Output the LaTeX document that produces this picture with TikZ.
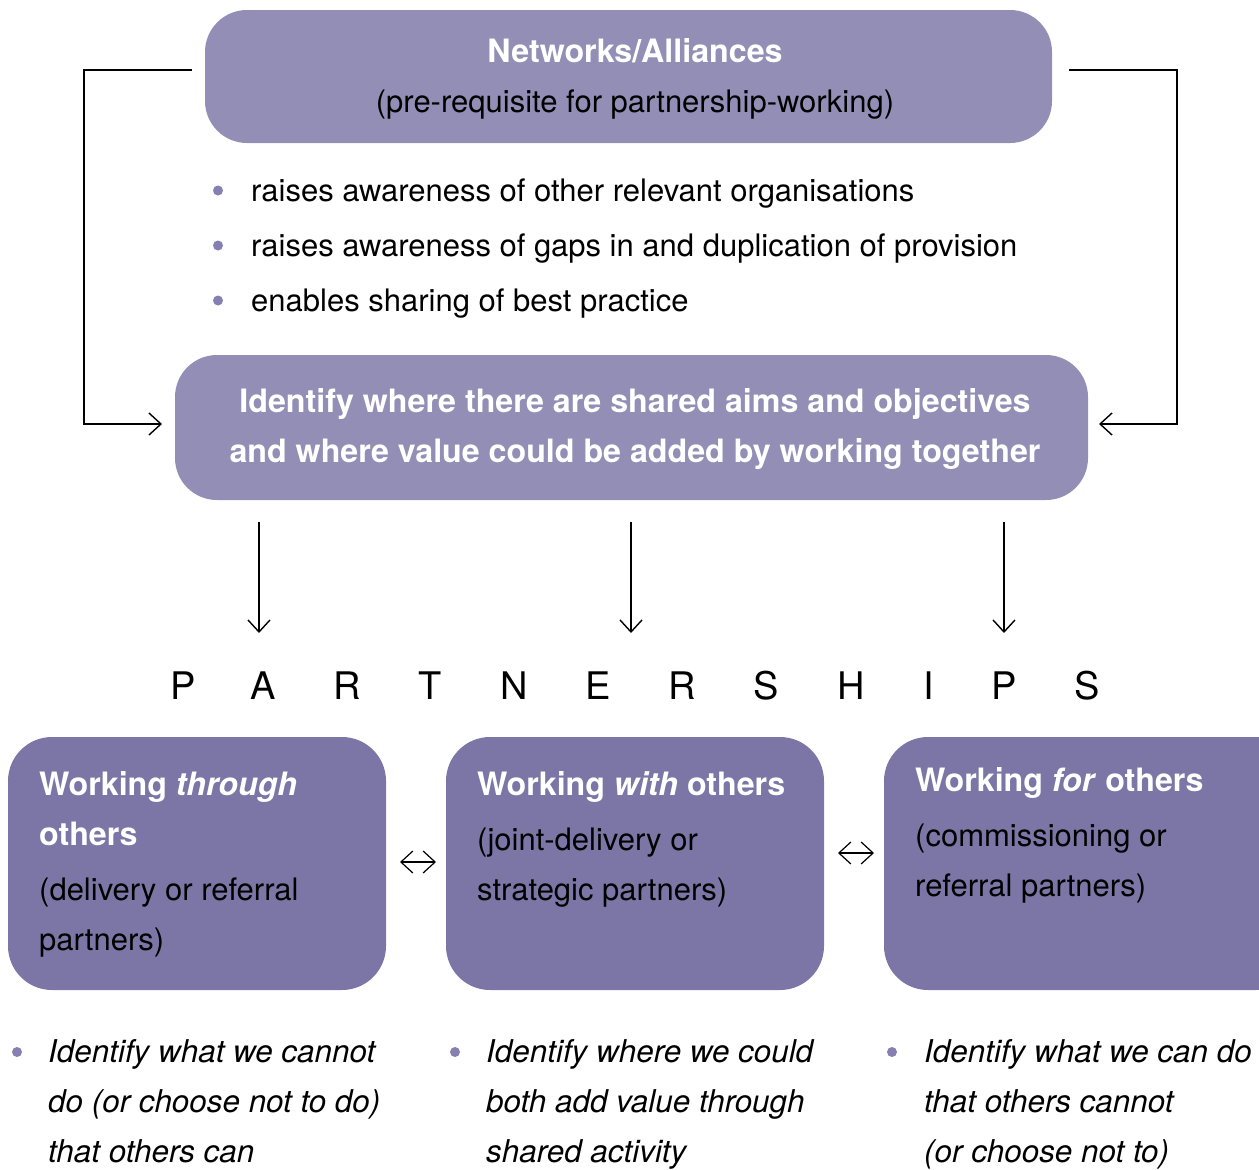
\documentclass[tikz,border=0pt]{standalone}
\usepackage{fontspec}
\setmainfont{TeX Gyre Heros}
\usetikzlibrary{arrows.meta}
\definecolor{boxA}{HTML}{938EB6}
\definecolor{boxB}{HTML}{7B76A6}
\definecolor{dotc}{HTML}{8580B0}
\begin{document}
\begin{tikzpicture}[x=1pt,y=-1pt,
  txt/.style={inner sep=0pt,anchor=base west,font=\fontsize{31}{50}\selectfont},
  ctxt/.style={inner sep=0pt,anchor=base,font=\fontsize{31}{50}\selectfont},
  wbold/.style={text=white,font=\fontsize{32.2}{50}\selectfont\bfseries},
  itx/.style={txt,font=\fontsize{31.4}{50}\selectfont\itshape},
  topbox/.style={fill=boxA,draw=none,rounded corners=42pt},
  botbox/.style={fill=boxB,draw=none,rounded corners=44pt},
  dotb/.style={circle,fill=dotc,inner sep=0pt,minimum size=10pt},
  conn/.style={line width=1.4pt,-{Straight Barb[length=12pt,width=22pt,line width=1.4pt]}},
  dconn/.style={line width=1.2pt,{Straight Barb[length=12pt,width=22pt,line width=1.2pt]}-{Straight Barb[length=12pt,width=22pt,line width=1.2pt]}},
  letter/.style={inner sep=0pt,anchor=base,font=\fontsize{38}{40}\selectfont}
]
\useasboundingbox (0,0) rectangle (1259,1170);

% top box
\path[topbox] (205,10) rectangle (1052,143);
\node[ctxt,wbold] (nettitle) at (635,62) {Networks/Alliances};
\node[ctxt] (netsub) at (635,112) {(pre-requisite for partnership-working)};

% bullets
\node[dotb] (d1) at (218,190.5) {};
\node[dotb] (d2) at (218,245.5) {};
\node[dotb] (d3) at (218,300.5) {};
\node[txt] (b1) at (251,201) {raises awareness of other relevant organisations};
\node[txt] (b2) at (251,256) {raises awareness of gaps in and duplication of provision};
\node[txt] (b3) at (251,311) {enables sharing of best practice};

% identify box
\path[topbox] (175,355) rectangle (1088,500);
\node[ctxt,wbold] (id1) at (635,412) {Identify where there are shared aims and objectives};
\node[ctxt,wbold] (id2) at (635,462) {and where value could be added by working together};

% feedback connectors
\coordinate (lA) at (192,70);
\coordinate (lB) at (162,424);
\coordinate (rA) at (1069,70);
\coordinate (rB) at (1099,424);
\draw[conn] (lA) -- (84,70) |- (lB);
\draw[conn] (rA) -- (1177,70) |- (rB);

% PARTNERSHIPS
\foreach \l/\x [count=\i] in {P/183,A/263,R/347,T/430,N/514,E/598,R/682,S/766,H/851,I/929,P/1004,S/1087}
  \node[letter] (L\i) at (\x,699) {\l};

% down arrows
\coordinate (u1) at (259,522); \coordinate (v1) at (259,633);
\coordinate (u2) at (631,522); \coordinate (v2) at (631,633);
\coordinate (u3) at (1004,522); \coordinate (v3) at (1004,633);
\draw[conn] (u1) -- (v1);
\draw[conn] (u2) -- (v2);
\draw[conn] (u3) -- (v3);

% bottom boxes
\path[botbox] (8,737) rectangle (386,990);
\path[botbox] (446,737) rectangle (824,990);
\path[botbox] (884,737) rectangle (1300,990);

\node[txt,wbold] (w1a) at (39,795) {Working \textit{through}};
\node[txt,wbold] (w1b) at (39,845) {others};
\node[txt] (w1c) at (39,900) {(delivery or referral};
\node[txt] (w1d) at (39,950) {partners)};

\node[txt,wbold] (w2a) at (477,795) {Working \textit{with} others};
\node[txt] (w2b) at (477,850) {(joint-delivery or};
\node[txt] (w2c) at (477,900) {strategic partners)};

\node[txt,wbold] (w3a) at (915,791) {Working \textit{for} others};
\node[txt] (w3b) at (915,846) {(commissioning or};
\node[txt] (w3c) at (915,896) {referral partners)};

% double arrows
\coordinate (p1) at (400,862); \coordinate (q1) at (436,862);
\coordinate (p2) at (838,853); \coordinate (q2) at (874,853);
\draw[dconn] (p1) -- (q1);
\draw[dconn] (p2) -- (q2);

% bottom bullets
\node[dotb] (e1) at (17,1052) {};
\node[dotb] (e2) at (455,1052) {};
\node[dotb] (e3) at (892,1052) {};
\node[itx] (c1a) at (48,1062) {Identify what we cannot};
\node[itx] (c1b) at (48,1112) {do (or choose not to do)};
\node[itx] (c1c) at (48,1162) {that others can};
\node[itx] (c2a) at (486,1062) {Identify where we could};
\node[itx] (c2b) at (486,1112) {both add value through};
\node[itx] (c2c) at (486,1162) {shared activity};
\node[itx] (c3a) at (924,1062) {Identify what we can do};
\node[itx] (c3b) at (924,1112) {that others cannot};
\node[itx] (c3c) at (924,1162) {(or choose not to)};
\end{tikzpicture}
\end{document}
